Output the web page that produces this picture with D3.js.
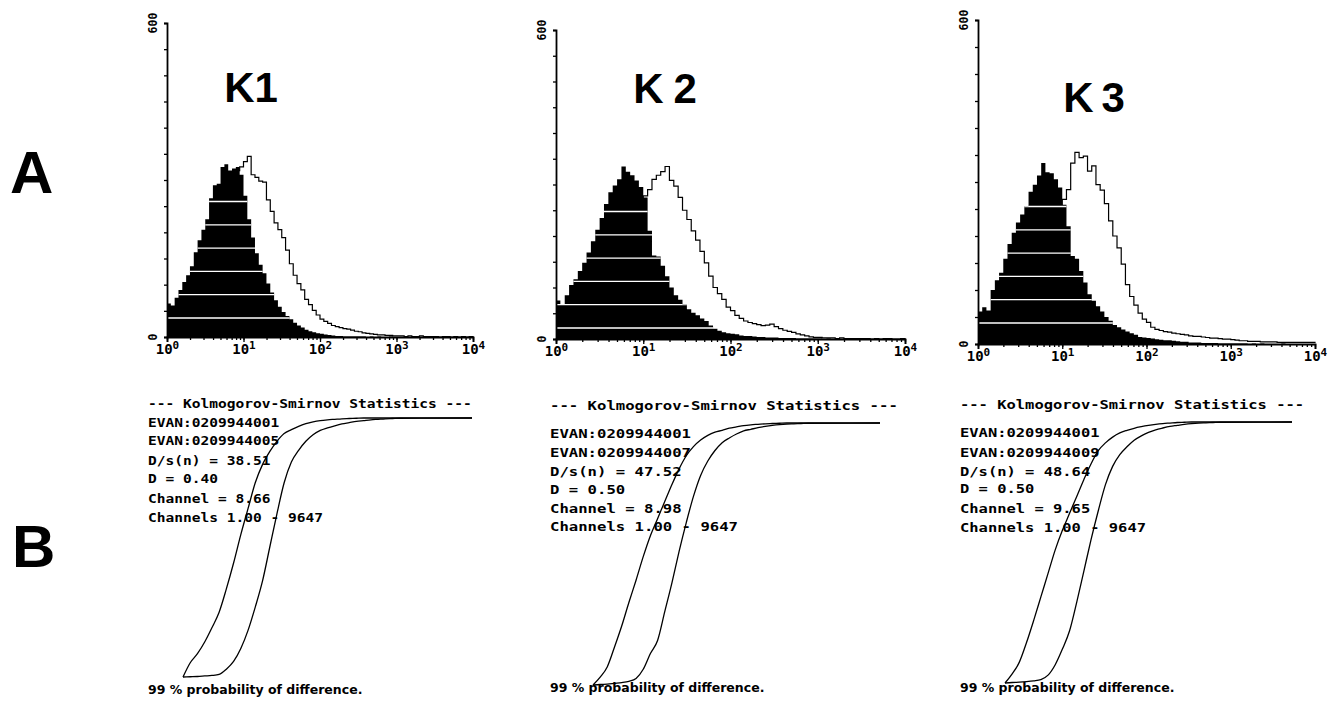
<!DOCTYPE html>
<html lang="en">
<head>
<meta charset="UTF-8" />
<title>K1 / K2 / K3 histograms and Kolmogorov-Smirnov statistics</title>
<script src="https://cdn.jsdelivr.net/npm/d3@7"></script>
<style>
  body { margin: 0; background: #fff; }
  svg { display: block; }
  .big { font-family: "Liberation Sans", Arial, sans-serif; font-weight: bold; }
  .dot { font-family: "DejaVu Sans Mono", monospace; font-weight: bold; }
  .foot { font-family: "DejaVu Sans", sans-serif; font-weight: bold; }
</style>
</head>
<body>
<svg id="fig" width="1328" height="709"></svg>
<script>
// log channel bins, in decades (10^0 .. 10^4)
const bins = [0,0.05,0.1,0.15,0.2,0.25,0.3,0.35,0.4,0.45,0.5,0.55,0.6,0.65,0.7,0.75,0.8,0.85,0.9,0.95,
  1,1.05,1.1,1.15,1.2,1.25,1.3,1.35,1.4,1.45,1.5,1.55,1.6,1.65,1.7,1.75,1.8,1.85,1.9,1.95,
  2,2.05,2.1,2.15,2.2,2.25,2.3,2.35,2.4,2.45,2.5,2.55,2.6,2.65,2.7,2.75,2.8,2.85,2.9,2.95,
  3,3.05,3.1,3.15,3.2,3.25,3.3,3.35,3.4,3.45,3.5,3.55,3.6,3.65,3.7,3.75,3.8,3.85,3.9,3.95,4];

const titles = ["K1", "K2", "K3"];
const xTickValues = [1, 10, 100, 1000, 10000];
const xTickExp = ["0", "1", "2", "3", "4"];
const yMax = 600;

// filled (control) histograms
const controlK1 = [64,60,75,90,105,118,135,162,185,205, 225,265,290,293,325,330,318,322,325,310,
  270,225,190,160,138,122,102,85,70,58, 48,40,34,27,22,18,14,11,9,7,
  6,5,4,3,2,2,1,1,1,1, 1,1,0,1,0,1,0,0,1,0, 0,0,1,0,0,0,0,0,0,0, 0,0,0,0,0,0,0,0,0,0,0];
const controlK2 = [75,68,85,105,116,132,148,168,190,212, 235,262,285,298,310,335,325,318,308,295,
  275,210,162,160,142,122,100,85,76,67, 58,51,46,40,35,26,20,16,13,11,
  10,9,7,6,6,5,4,4,3,3, 3,2,2,2,2,1,1,1,1,1, 1,0,1,0,1,0,0,1,0,0, 0,0,0,0,0,0,0,0,0,0,0];
const controlK3 = [60,68,62,100,118,132,158,185,206,225, 240,255,282,295,312,335,318,316,305,290,
  258,218,163,158,135,114,92,80,70,60, 50,43,35,31,27,23,20,17,13,12,
  11,10,9,8,7,7,6,5,4,4, 3,3,3,2,2,2,2,1,1,1, 1,1,1,1,0,1,0,1,0,0, 0,0,1,0,0,0,0,0,0,0,0];

// open (stained) histograms
const testK1 = [30,28,32,38,44,50,58,66,76,88, 100,115,135,160,190,225,260,290,318,325,
  335,345,310,305,298,296,262,240,218,205, 190,166,140,118,102,90,72,62,51,42,
  34,30,26,22,20,18,16,15,13,11, 10,8,7,6,5,4,4,3,3,2, 2,2,1,2,1,1,2,1,1,1, 1,0,1,1,0,1,0,1,0,1,0];
const testK2 = [30,26,30,34,38,42,48,54,60,68, 78,90,105,120,140,160,185,210,240,262,
  278,290,310,318,325,335,308,297,275,250, 232,210,192,170,148,122,100,88,77,62,
  55,46,40,35,32,30,28,26,27,29, 24,20,17,15,13,10,8,6,4,3, 3,2,2,2,1,2,1,1,1,1, 1,1,0,1,0,1,1,0,0,1,0];
const testK3 = [28,30,32,35,38,42,46,52,58,66, 76,88,100,115,132,152,175,200,228,255,
  268,286,335,355,345,348,320,330,295,285, 260,228,200,178,148,110,88,72,57,46,
  40,31,27,25,23,22,20,19,18,17, 15,14,14,13,12,11,11,10,9,9, 8,7,6,6,5,5,5,4,4,4, 4,3,3,3,3,3,3,3,3,3,2];

// Kolmogorov-Smirnov cumulative fractions (decades)
const ksGrid = [0,0.1,0.2,0.3,0.4,0.5,0.6,0.7,0.8,0.9,1,1.1,1.2,1.3,1.4,1.5,1.6,1.7,1.8,1.9,
  2,2.1,2.2,2.3,2.4,2.5,2.6,2.7,2.8,2.9,3,4];
const ksControlK1 = [0,0.055,0.09,0.135,0.19,0.25,0.34,0.44,0.55,0.65, 0.75,0.82,0.87,0.91,0.94,
  0.955,0.968,0.978,0.985,0.99, 0.993,0.995,0.997,0.998,0.999, 1,1,1,1,1,1,1];
const ksTestK1 = [0,0.001,0.002,0.004,0.006,0.01,0.03,0.06,0.11,0.18, 0.27,0.37,0.5,0.63,0.75,
  0.83,0.875,0.91,0.935,0.952, 0.962,0.97,0.977,0.982,0.987, 0.99,0.993,0.995,0.997,0.998,0.999,1];
const ksControlK2 = [0,0.03,0.07,0.145,0.225,0.315,0.4,0.49,0.57,0.635, 0.7,0.765,0.825,0.875,0.91,
  0.935,0.953,0.965,0.972,0.98, 0.985,0.99,0.993,0.995,0.997, 0.998,0.999,1,1,1,1,1];
const ksTestK2 = [0,0.002,0.003,0.006,0.009,0.014,0.025,0.06,0.12,0.17, 0.28,0.39,0.51,0.62,0.72,
  0.8,0.855,0.895,0.925,0.943, 0.958,0.97,0.976,0.982,0.987, 0.991,0.994,0.996,0.997,0.998,0.999,1];
const ksControlK3 = [0,0.035,0.08,0.155,0.24,0.33,0.42,0.51,0.585,0.65, 0.715,0.78,0.84,0.89,0.92,
  0.942,0.958,0.968,0.976,0.982, 0.987,0.991,0.994,0.996,0.998, 0.999,1,1,1,1,1,1];
const ksTestK3 = [0,0.002,0.003,0.005,0.008,0.013,0.03,0.07,0.13,0.2, 0.31,0.43,0.55,0.66,0.76,
  0.83,0.875,0.905,0.93,0.947, 0.96,0.97,0.977,0.983,0.987, 0.991,0.994,0.996,0.997,0.998,0.999,1];

const statsK1 = ["--- Kolmogorov-Smirnov Statistics ---", "EVAN:0209944001", "EVAN:0209944005",
  "D/s(n) = 38.51", "D = 0.40", "Channel = 8.66", "Channels 1.00 - 9647"];
const statsK2 = ["--- Kolmogorov-Smirnov Statistics ---", "EVAN:0209944001", "EVAN:0209944007",
  "D/s(n) = 47.52", "D = 0.50", "Channel = 8.98", "Channels 1.00 - 9647"];
const statsK3 = ["--- Kolmogorov-Smirnov Statistics ---", "EVAN:0209944001", "EVAN:0209944009",
  "D/s(n) = 48.64", "D = 0.50", "Channel = 9.65", "Channels 1.00 - 9647"];
const footText = "99 % probability of difference.";

const controls = [controlK1, controlK2, controlK3];
const tests = [testK1, testK2, testK3];
const ksControls = [ksControlK1, ksControlK2, ksControlK3];
const ksTests = [ksTestK1, ksTestK2, ksTestK3];
const stats = [statsK1, statsK2, statsK3];

// page layout for the three columns
const frames = [
  { hx0: 167, hx1: 473, hy0: 337, hy1: 23, tx: 251, ty: 102, ls: 0, stripe0: 19,
    kx0: 183, kx1: 472, ky0: 677, ky1: 418,
    sx: 148, pitch: 8.75, sy: [408, 427, 445, 465, 483, 503, 522], fy: 694 },
  { hx0: 556, hx1: 905, hy0: 339, hy1: 30, tx: 665, ty: 103, ls: 10, stripe0: 11,
    kx0: 593, kx1: 880, ky0: 685, ky1: 423,
    sx: 550, pitch: 9.4, sy: [410, 438, 457, 476, 494, 513, 531], fy: 692 },
  { hx0: 978, hx1: 1315, hy0: 344, hy1: 20, tx: 1094, ty: 112, ls: 8, stripe0: 21,
    kx0: 1005, kx1: 1292, ky0: 683, ky1: 422,
    sx: 960, pitch: 9.3, sy: [409, 437, 457, 476, 493, 513, 532], fy: 692 }
];

const svg = d3.select("#fig");

svg.append("text").attr("class", "big").attr("x", 10).attr("y", 193)
  .attr("font-size", 60).text("A");
svg.append("text").attr("class", "big").attr("x", 12).attr("y", 567)
  .attr("font-size", 60).text("B");

frames.forEach((f, i) => {
  const g = svg.append("g");
  const x = d3.scaleLog().domain([1, 10000]).range([f.hx0, f.hx1]);
  const y = d3.scaleLinear().domain([0, yMax]).range([f.hy0, f.hy1]);

  const pts = arr => arr.map((v, j) => [10 ** bins[j], v]);
  const area = d3.area().x(d => x(d[0])).y0(y(0)).y1(d => y(d[1])).curve(d3.curveStepAfter);
  const line = d3.line().x(d => x(d[0])).y(d => y(d[1])).curve(d3.curveStepAfter);

  // open histogram
  g.append("path").attr("d", line(pts(tests[i])))
    .attr("fill", "none").attr("stroke", "#000").attr("stroke-width", 1.2);

  // filled histogram
  const areaD = area(pts(controls[i]));
  g.append("path").attr("d", areaD).attr("fill", "#000");

  // white scan bands inside the filled histogram
  const clipId = "clip" + i;
  g.append("clipPath").attr("id", clipId).append("path").attr("d", areaD);
  const bands = g.append("g").attr("clip-path", `url(#${clipId})`);
  d3.range(6).forEach(k => {
    const yy = f.hy0 - f.stripe0 - k * 23.3;
    bands.append("line").attr("x1", f.hx0).attr("x2", f.hx1).attr("y1", yy).attr("y2", yy)
      .attr("stroke", "#fff").attr("stroke-width", 1.3);
  });

  // axes
  const xMajor = d3.axisBottom(x).tickValues(xTickValues).tickFormat("").tickSize(5);
  const xAx = g.append("g").attr("transform", `translate(0,${f.hy0})`).call(xMajor);
  xAx.selectAll(".tick").append("text")
    .attr("class", "dot").attr("font-size", 14).attr("fill", "#000")
    .attr("text-anchor", "middle").attr("y", 17)
    .each(function (d, k) {
      const t = d3.select(this);
      t.append("tspan").text("10");
      t.append("tspan").attr("dy", -5).attr("font-size", 11).text(xTickExp[k]);
    });
  const xMinor = d3.axisBottom(x).tickValues(x.ticks()).tickFormat("").tickSize(3);
  g.append("g").attr("transform", `translate(0,${f.hy0})`).call(xMinor)
    .select(".domain").remove();

  const yAx = d3.axisLeft(y).tickValues(y.ticks(10)).tickFormat("").tickSize(3);
  g.append("g").attr("transform", `translate(${f.hx0},0)`).call(yAx);
  g.selectAll(".domain").attr("stroke", "#000").attr("stroke-width", 1.8);
  g.selectAll(".tick line").attr("stroke", "#000").attr("stroke-width", 1.3);

  [yMax, 0].forEach(v => {
    g.append("text").attr("class", "dot").attr("font-size", 11.5)
      .attr("text-anchor", "middle")
      .attr("transform", `translate(${f.hx0 - 10},${y(v)}) rotate(-90)`)
      .text(String(v));
  });

  g.append("text").attr("class", "big").attr("font-size", 42)
    .attr("text-anchor", "middle").attr("letter-spacing", f.ls)
    .attr("x", f.tx + f.ls / 2).attr("y", f.ty).text(titles[i]);

  // Kolmogorov-Smirnov cumulative curves
  const kx = d3.scaleLinear().domain([0, 4]).range([f.kx0, f.kx1]);
  const ky = d3.scaleLinear().domain([0, 1]).range([f.ky0, f.ky1]);
  const kLine = d3.line().x((d, j) => kx(ksGrid[j])).y(d => ky(d)).curve(d3.curveMonotoneX);
  [ksControls[i], ksTests[i]].forEach(arr => {
    g.append("path").attr("d", kLine(arr))
      .attr("fill", "none").attr("stroke", "#000").attr("stroke-width", 1.3);
  });

  g.selectAll("text.ks").data(stats[i]).join("text")
    .attr("class", "dot ks").attr("font-size", 11.5)
    .attr("x", f.sx).attr("y", (d, k) => f.sy[k])
    .attr("textLength", d => d.length * f.pitch).attr("lengthAdjust", "spacingAndGlyphs")
    .text(d => d);

  g.append("text").attr("class", "foot").attr("font-size", 12.5)
    .attr("x", f.sx).attr("y", f.fy).text(footText);
});
</script>
</body>
</html>
